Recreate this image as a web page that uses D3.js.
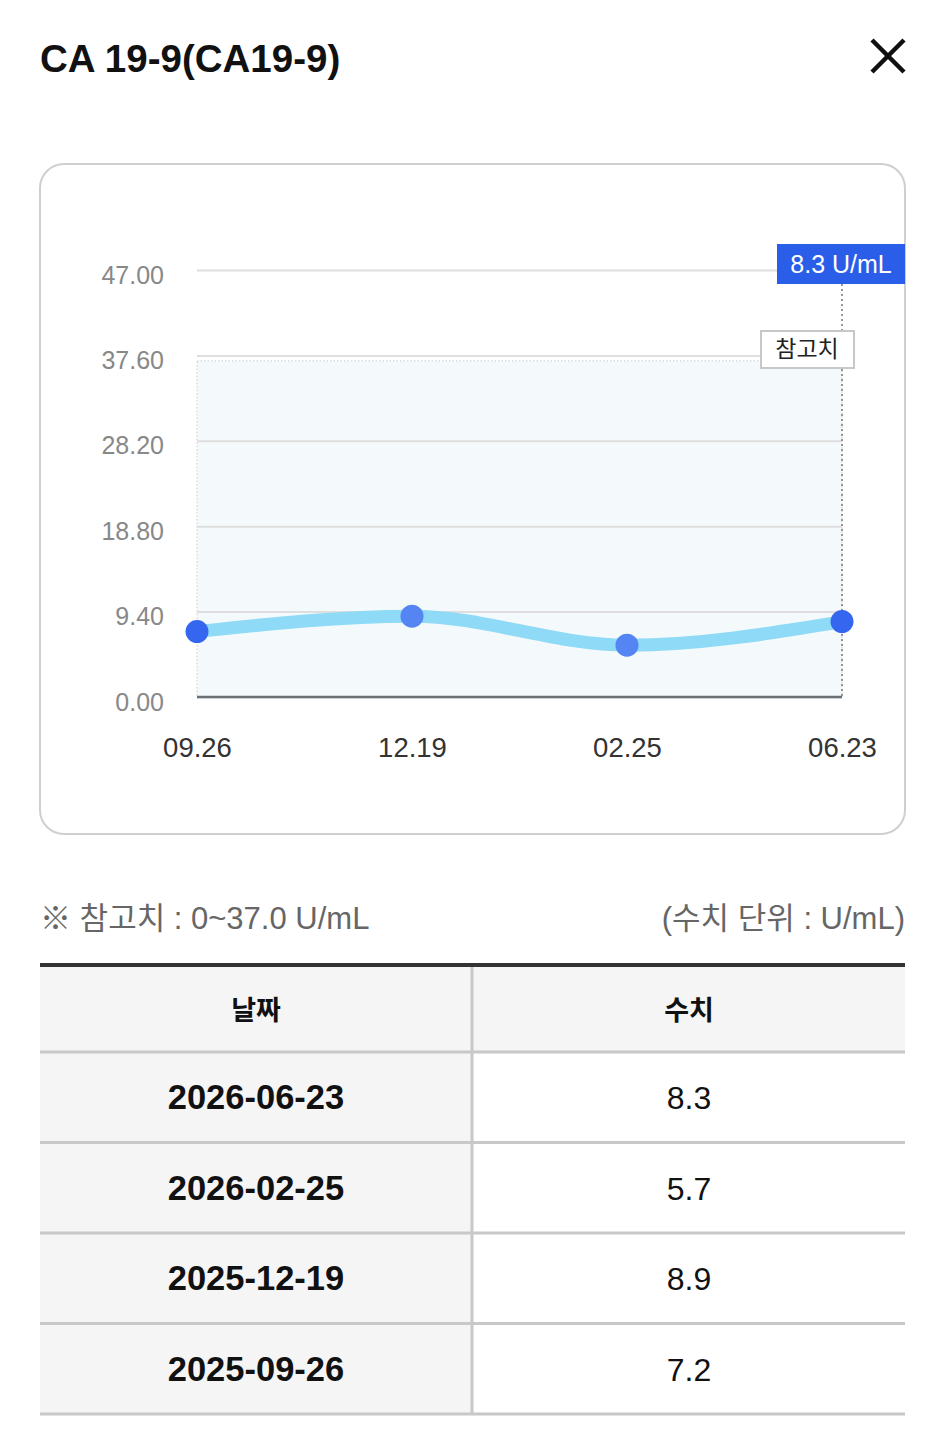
<!DOCTYPE html>
<html>
<head>
<meta charset="utf-8">
<script src="https://cdn.jsdelivr.net/npm/d3@7"></script>
<style>
  html, body { margin: 0; padding: 0; background: #fff; }
  svg { display: block; font-family: "Liberation Sans", "Noto Sans CJK KR", sans-serif; }
</style>
</head>
<body>
<div id="chart"></div>
<script>
const title = "CA 19-9(CA19-9)"
const dates = ["2025-09-26", "2025-12-19", "2026-02-25", "2026-06-23"]
const values = [7.2, 8.9, 5.7, 8.3]
const yTicks = [0, 9.4, 18.8, 28.2, 37.6, 47]
const refRange = [0, 37]
const unit = "U/mL"

const width = 945, height = 1449
const plot = { left: 197, right: 842, top: 270, bottom: 697 }

const svg = d3.select("#chart").append("svg")
  .attr("width", width).attr("height", height)
  .attr("viewBox", [0, 0, width, height])

// header
svg.append("text").attr("x", 40).attr("y", 72)
  .attr("font-size", 38.5).attr("font-weight", 700).attr("fill", "#111")
  .text(title)
svg.append("path").attr("d", "M872,40 L904,72 M904,40 L872,72")
  .attr("stroke", "#111").attr("stroke-width", 4.5)

// card
svg.append("rect").attr("x", 40).attr("y", 164).attr("width", 865).attr("height", 670)
  .attr("rx", 24).attr("fill", "#fff").attr("stroke", "#cfcfcf").attr("stroke-width", 2)

const x = d3.scalePoint().domain(dates).range([plot.left, plot.right])
const y = d3.scaleLinear().domain([0, 47]).range([plot.bottom, plot.top])

// reference band
svg.append("rect")
  .attr("x", plot.left).attr("y", y(refRange[1]))
  .attr("width", plot.right - plot.left).attr("height", y(refRange[0]) - y(refRange[1]))
  .attr("fill", "#f4fafb").attr("stroke", "#c8cdd0").attr("stroke-width", 1)
  .attr("stroke-dasharray", "1.5,2")

// grid + y labels
const yAxis = d3.axisLeft(y).tickValues(yTicks).tickFormat(d3.format(".2f"))
  .tickSize(-(plot.right - plot.left)).tickPadding(33)
svg.append("g").attr("transform", `translate(${plot.left},0)`)
  .call(yAxis)
  .call(g => g.select(".domain").remove())
  .call(g => g.selectAll(".tick line").attr("stroke", "#dedede").attr("stroke-width", 2))
  .call(g => g.selectAll(".tick text").attr("fill", "#888").attr("font-size", 25)
    .attr("dy", "0.52em").attr("font-family", "'Liberation Sans', sans-serif"))

// baseline
svg.append("line").attr("x1", plot.left).attr("x2", plot.right)
  .attr("y1", plot.bottom).attr("y2", plot.bottom)
  .attr("stroke", "#6b7075").attr("stroke-width", 2.5)

// x labels
const xAxis = d3.axisBottom(x).tickSize(0).tickPadding(40)
  .tickFormat(d => d.slice(5).replace("-", "."))
svg.append("g").attr("transform", `translate(0,${plot.bottom})`)
  .call(xAxis)
  .call(g => g.select(".domain").remove())
  .call(g => g.selectAll(".tick text").attr("fill", "#333").attr("font-size", 27.5)
    .attr("font-family", "'Liberation Sans', sans-serif"))

// vertical cursor at last point
const last = dates.length - 1
svg.append("line").attr("x1", x(dates[last])).attr("x2", x(dates[last]))
  .attr("y1", 284).attr("y2", plot.bottom)
  .attr("stroke", "#777").attr("stroke-width", 1.5).attr("stroke-dasharray", "2,3")

// line
const line = d3.line().x((d, i) => x(dates[i])).y(d => y(d)).curve(d3.curveMonotoneX)
svg.append("path").datum(values).attr("d", line)
  .attr("fill", "none").attr("stroke", "#8fdaf6").attr("stroke-width", 13)
  .attr("stroke-linecap", "round")

svg.append("g").selectAll("circle").data(values).join("circle")
  .attr("cx", (d, i) => x(dates[i])).attr("cy", d => y(d)).attr("r", 11.5)
  .attr("fill", (d, i) => i === 0 || i === last ? "#3466f0" : "#5585f2")

// reference label
svg.append("rect").attr("x", 761).attr("y", 331).attr("width", 93).attr("height", 37)
  .attr("fill", "#fff").attr("stroke", "#c8c8c8").attr("stroke-width", 2)
svg.append("text").attr("x", 807).attr("y", 357).attr("text-anchor", "middle")
  .attr("font-size", 23).attr("fill", "#222").text("참고치")

// value tooltip
svg.append("rect").attr("x", 777).attr("y", 244).attr("width", 128).attr("height", 40)
  .attr("fill", "#2a5ee8")
svg.append("text").attr("x", 841).attr("y", 273).attr("text-anchor", "middle")
  .attr("font-size", 25).attr("fill", "#fff")
  .text(`${values[last]} ${unit}`)

// notes
svg.append("text").attr("x", 40).attr("y", 929).attr("font-size", 31).attr("fill", "#666")
  .text(`※ 참고치 : ${refRange[0]}~${refRange[1].toFixed(1)} ${unit}`)
svg.append("text").attr("x", 905).attr("y", 929).attr("text-anchor", "end")
  .attr("font-size", 31).attr("fill", "#666").text(`(수치 단위 : ${unit})`)

// table
const rowH = 90.5, headTop = 967, headH = 85, colX = 472
const rows = dates.map((d, i) => ({ date: d, value: values[i] })).reverse()
svg.append("rect").attr("x", 40).attr("y", headTop).attr("width", 865).attr("height", headH)
  .attr("fill", "#f5f5f5")
svg.append("text").attr("x", 256).attr("y", headTop + 53).attr("text-anchor", "middle")
  .attr("font-size", 27).attr("font-weight", 700).attr("fill", "#111").text("날짜")
svg.append("text").attr("x", 689).attr("y", headTop + 53).attr("text-anchor", "middle")
  .attr("font-size", 27).attr("font-weight", 700).attr("fill", "#111").text("수치")

const body = svg.append("g").selectAll("g").data(rows).join("g")
  .attr("transform", (d, i) => `translate(0,${headTop + headH + i * rowH})`)
body.append("rect").attr("x", 40).attr("width", colX - 40).attr("height", rowH).attr("fill", "#f5f5f5")
body.append("text").attr("x", 256).attr("y", rowH / 2 + 12).attr("text-anchor", "middle")
  .attr("font-size", 34.5).attr("font-weight", 700).attr("fill", "#111").text(d => d.date)
body.append("text").attr("x", 689).attr("y", rowH / 2 + 12).attr("text-anchor", "middle")
  .attr("font-size", 32).attr("fill", "#111").text(d => d.value)
body.append("line").attr("x1", 40).attr("x2", 905).attr("y1", 0).attr("y2", 0)
  .attr("stroke", "#c8c8c8").attr("stroke-width", 3)
svg.append("line").attr("x1", 40).attr("x2", 905)
  .attr("y1", headTop + headH + rows.length * rowH).attr("y2", headTop + headH + rows.length * rowH)
  .attr("stroke", "#c8c8c8").attr("stroke-width", 3)
svg.append("line").attr("x1", colX).attr("x2", colX)
  .attr("y1", headTop).attr("y2", headTop + headH + rows.length * rowH)
  .attr("stroke", "#c8c8c8").attr("stroke-width", 3)
svg.append("line").attr("x1", 40).attr("x2", 905).attr("y1", 965).attr("y2", 965)
  .attr("stroke", "#333").attr("stroke-width", 4)
</script>
</body>
</html>
